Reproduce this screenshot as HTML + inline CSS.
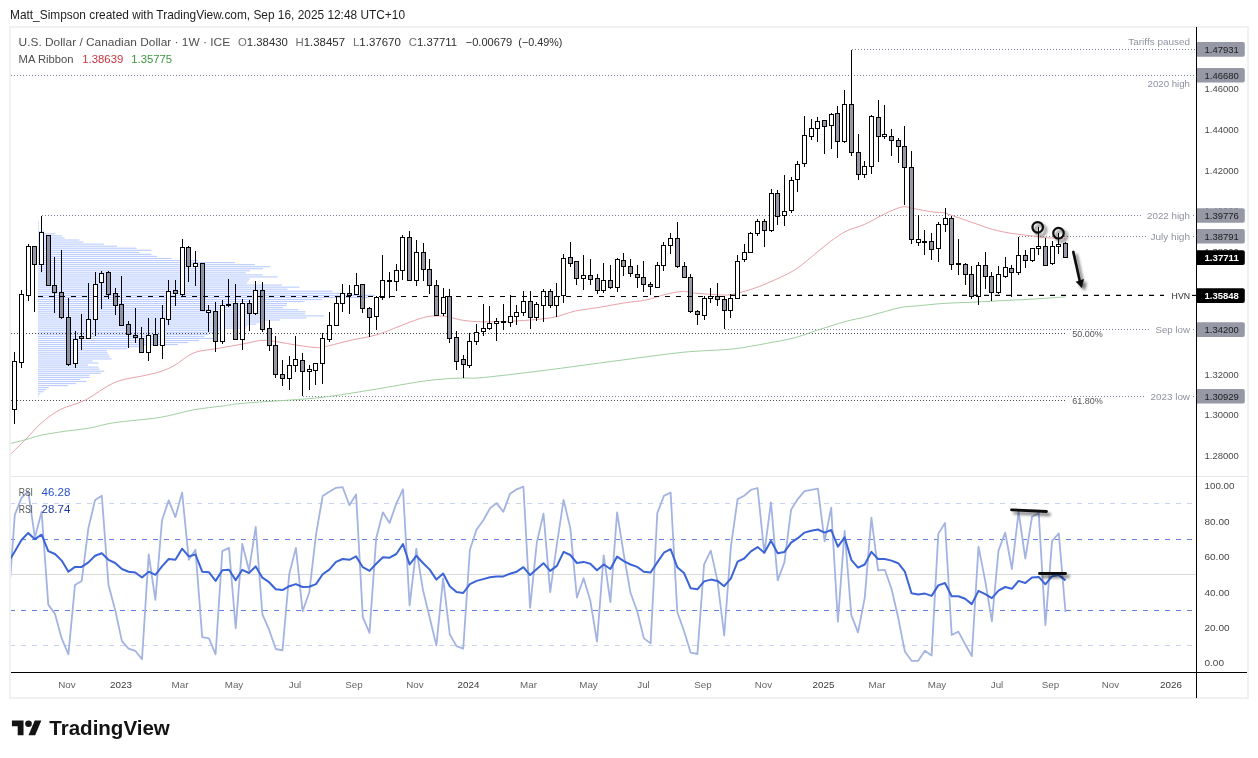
<!DOCTYPE html>
<html><head><meta charset="utf-8"><title>USDCAD chart</title>
<style>html,body{margin:0;padding:0;background:#fff;overflow:hidden;font-family:"Liberation Sans",sans-serif}svg{display:block;opacity:0.9999}</style></head>
<body>
<svg width="1258" height="758" viewBox="0 0 1258 758" font-family="Liberation Sans, sans-serif">
<defs>
<clipPath id="cm"><rect x="11" y="27" width="1185" height="449"/></clipPath>
<clipPath id="cr"><rect x="11" y="477" width="1185" height="195"/></clipPath>
<filter id="sh" x="-50%" y="-50%" width="200%" height="200%"><feGaussianBlur in="SourceAlpha" stdDeviation="1.6"/><feOffset dx="3" dy="2.5" result="o"/><feComponentTransfer><feFuncA type="linear" slope="0.55"/></feComponentTransfer><feMerge><feMergeNode/><feMergeNode in="SourceGraphic"/></feMerge></filter>
</defs>
<rect width="1258" height="758" fill="#fff"/>
<rect x="10" y="27" width="1238" height="671" fill="#fff" stroke="#f1f1f4" stroke-width="2"/>
<line x1="11" y1="476.5" x2="1247" y2="476.5" stroke="#e4e6ec" stroke-width="1"/>
<g clip-path="url(#cm)">
<line x1="852" y1="49.5" x2="1195" y2="49.5" stroke="#7c7e95" stroke-width="1" stroke-dasharray="1 2"/>
<line x1="11" y1="75.5" x2="1196" y2="75.5" stroke="#7c7e95" stroke-width="1" stroke-dasharray="1 2"/>
<line x1="42" y1="215.5" x2="1143" y2="215.5" stroke="#7c7e95" stroke-width="1" stroke-dasharray="1 2"/>
<line x1="1193" y1="215.5" x2="1196" y2="215.5" stroke="#7c7e95" stroke-width="1" stroke-dasharray="1 2"/>
<line x1="1019" y1="236.5" x2="1146" y2="236.5" stroke="#7c7e95" stroke-width="1" stroke-dasharray="1 2"/>
<line x1="1193" y1="236.5" x2="1196" y2="236.5" stroke="#7c7e95" stroke-width="1" stroke-dasharray="1 2"/>
<line x1="725" y1="329.5" x2="1151" y2="329.5" stroke="#7c7e95" stroke-width="1" stroke-dasharray="1 2"/>
<line x1="1193" y1="329.5" x2="1196" y2="329.5" stroke="#7c7e95" stroke-width="1" stroke-dasharray="1 2"/>
<line x1="303" y1="396.5" x2="1146" y2="396.5" stroke="#7c7e95" stroke-width="1" stroke-dasharray="1 2"/>
<line x1="1193" y1="396.5" x2="1196" y2="396.5" stroke="#7c7e95" stroke-width="1" stroke-dasharray="1 2"/>
<line x1="11" y1="333.5" x2="1065" y2="333.5" stroke="#4a4a4a" stroke-width="1" stroke-dasharray="1 2"/>
<line x1="11" y1="400.5" x2="1065" y2="400.5" stroke="#4a4a4a" stroke-width="1" stroke-dasharray="1 2"/>
<rect x="38" y="221.00" width="1.0" height="1.15" fill="#2962ff" fill-opacity="0.31"/>
<rect x="38" y="223.05" width="1.0" height="1.15" fill="#2962ff" fill-opacity="0.31"/>
<rect x="38" y="225.10" width="1.0" height="1.15" fill="#2962ff" fill-opacity="0.31"/>
<rect x="38" y="227.15" width="1.0" height="1.15" fill="#2962ff" fill-opacity="0.31"/>
<rect x="38" y="229.20" width="1.0" height="1.15" fill="#2962ff" fill-opacity="0.31"/>
<rect x="38" y="231.25" width="6.3" height="1.15" fill="#2962ff" fill-opacity="0.31"/>
<rect x="38" y="233.30" width="17.4" height="1.15" fill="#2962ff" fill-opacity="0.31"/>
<rect x="38" y="235.35" width="23.9" height="1.15" fill="#2962ff" fill-opacity="0.31"/>
<rect x="38" y="237.40" width="26.5" height="1.15" fill="#2962ff" fill-opacity="0.31"/>
<rect x="38" y="239.45" width="41.4" height="1.15" fill="#2962ff" fill-opacity="0.31"/>
<rect x="38" y="241.50" width="45.3" height="1.15" fill="#2962ff" fill-opacity="0.31"/>
<rect x="38" y="243.55" width="65.9" height="1.15" fill="#2962ff" fill-opacity="0.31"/>
<rect x="38" y="245.60" width="79.1" height="1.15" fill="#2962ff" fill-opacity="0.31"/>
<rect x="38" y="247.65" width="98.6" height="1.15" fill="#2962ff" fill-opacity="0.31"/>
<rect x="38" y="249.70" width="113.4" height="1.15" fill="#2962ff" fill-opacity="0.31"/>
<rect x="38" y="251.75" width="101.4" height="1.15" fill="#2962ff" fill-opacity="0.31"/>
<rect x="38" y="253.80" width="113.5" height="1.15" fill="#2962ff" fill-opacity="0.31"/>
<rect x="38" y="255.85" width="118.9" height="1.15" fill="#2962ff" fill-opacity="0.31"/>
<rect x="38" y="257.90" width="133.4" height="1.15" fill="#2962ff" fill-opacity="0.31"/>
<rect x="38" y="259.95" width="160.3" height="1.15" fill="#2962ff" fill-opacity="0.31"/>
<rect x="38" y="262.00" width="196.8" height="1.15" fill="#2962ff" fill-opacity="0.31"/>
<rect x="38" y="264.05" width="216.8" height="1.15" fill="#2962ff" fill-opacity="0.31"/>
<rect x="38" y="266.10" width="232.2" height="1.15" fill="#2962ff" fill-opacity="0.31"/>
<rect x="38" y="268.15" width="225.2" height="1.15" fill="#2962ff" fill-opacity="0.31"/>
<rect x="38" y="270.20" width="212.0" height="1.15" fill="#2962ff" fill-opacity="0.31"/>
<rect x="38" y="272.25" width="207.8" height="1.15" fill="#2962ff" fill-opacity="0.31"/>
<rect x="38" y="274.30" width="224.7" height="1.15" fill="#2962ff" fill-opacity="0.31"/>
<rect x="38" y="276.35" width="239.8" height="1.15" fill="#2962ff" fill-opacity="0.31"/>
<rect x="38" y="278.40" width="211.6" height="1.15" fill="#2962ff" fill-opacity="0.31"/>
<rect x="38" y="280.45" width="210.6" height="1.15" fill="#2962ff" fill-opacity="0.31"/>
<rect x="38" y="282.50" width="209.1" height="1.15" fill="#2962ff" fill-opacity="0.31"/>
<rect x="38" y="284.55" width="244.1" height="1.15" fill="#2962ff" fill-opacity="0.31"/>
<rect x="38" y="286.60" width="261.4" height="1.15" fill="#2962ff" fill-opacity="0.31"/>
<rect x="38" y="288.65" width="249.4" height="1.15" fill="#2962ff" fill-opacity="0.31"/>
<rect x="38" y="290.70" width="294.4" height="1.15" fill="#2962ff" fill-opacity="0.31"/>
<rect x="38" y="292.75" width="308.0" height="1.15" fill="#2962ff" fill-opacity="0.31"/>
<rect x="38" y="294.80" width="336.8" height="1.15" fill="#2962ff" fill-opacity="0.31"/>
<rect x="38" y="296.85" width="330.4" height="1.15" fill="#2962ff" fill-opacity="0.31"/>
<rect x="38" y="298.90" width="284.1" height="1.15" fill="#2962ff" fill-opacity="0.31"/>
<rect x="38" y="300.95" width="266.5" height="1.15" fill="#2962ff" fill-opacity="0.31"/>
<rect x="38" y="303.00" width="248.9" height="1.15" fill="#2962ff" fill-opacity="0.31"/>
<rect x="38" y="305.05" width="248.5" height="1.15" fill="#2962ff" fill-opacity="0.31"/>
<rect x="38" y="307.10" width="244.8" height="1.15" fill="#2962ff" fill-opacity="0.31"/>
<rect x="38" y="309.15" width="260.5" height="1.15" fill="#2962ff" fill-opacity="0.31"/>
<rect x="38" y="311.20" width="267.4" height="1.15" fill="#2962ff" fill-opacity="0.31"/>
<rect x="38" y="313.25" width="267.3" height="1.15" fill="#2962ff" fill-opacity="0.31"/>
<rect x="38" y="315.30" width="285.8" height="1.15" fill="#2962ff" fill-opacity="0.31"/>
<rect x="38" y="317.35" width="268.4" height="1.15" fill="#2962ff" fill-opacity="0.31"/>
<rect x="38" y="319.40" width="242.1" height="1.15" fill="#2962ff" fill-opacity="0.31"/>
<rect x="38" y="321.45" width="226.4" height="1.15" fill="#2962ff" fill-opacity="0.31"/>
<rect x="38" y="323.50" width="218.4" height="1.15" fill="#2962ff" fill-opacity="0.31"/>
<rect x="38" y="325.55" width="209.1" height="1.15" fill="#2962ff" fill-opacity="0.31"/>
<rect x="38" y="327.60" width="207.9" height="1.15" fill="#2962ff" fill-opacity="0.31"/>
<rect x="38" y="329.65" width="187.1" height="1.15" fill="#2962ff" fill-opacity="0.31"/>
<rect x="38" y="331.70" width="175.8" height="1.15" fill="#2962ff" fill-opacity="0.31"/>
<rect x="38" y="333.75" width="170.4" height="1.15" fill="#2962ff" fill-opacity="0.31"/>
<rect x="38" y="335.80" width="166.6" height="1.15" fill="#2962ff" fill-opacity="0.31"/>
<rect x="38" y="337.85" width="180.0" height="1.15" fill="#2962ff" fill-opacity="0.31"/>
<rect x="38" y="339.90" width="161.1" height="1.15" fill="#2962ff" fill-opacity="0.31"/>
<rect x="38" y="341.95" width="150.2" height="1.15" fill="#2962ff" fill-opacity="0.31"/>
<rect x="38" y="344.00" width="139.9" height="1.15" fill="#2962ff" fill-opacity="0.31"/>
<rect x="38" y="346.05" width="104.0" height="1.15" fill="#2962ff" fill-opacity="0.31"/>
<rect x="38" y="348.10" width="89.4" height="1.15" fill="#2962ff" fill-opacity="0.31"/>
<rect x="38" y="350.15" width="68.8" height="1.15" fill="#2962ff" fill-opacity="0.31"/>
<rect x="38" y="352.20" width="69.7" height="1.15" fill="#2962ff" fill-opacity="0.31"/>
<rect x="38" y="354.25" width="70.8" height="1.15" fill="#2962ff" fill-opacity="0.31"/>
<rect x="38" y="356.30" width="71.7" height="1.15" fill="#2962ff" fill-opacity="0.31"/>
<rect x="38" y="358.35" width="73.6" height="1.15" fill="#2962ff" fill-opacity="0.31"/>
<rect x="38" y="360.40" width="54.6" height="1.15" fill="#2962ff" fill-opacity="0.31"/>
<rect x="38" y="362.45" width="60.5" height="1.15" fill="#2962ff" fill-opacity="0.31"/>
<rect x="38" y="364.50" width="49.8" height="1.15" fill="#2962ff" fill-opacity="0.31"/>
<rect x="38" y="366.55" width="60.4" height="1.15" fill="#2962ff" fill-opacity="0.31"/>
<rect x="38" y="368.60" width="61.6" height="1.15" fill="#2962ff" fill-opacity="0.31"/>
<rect x="38" y="370.65" width="66.3" height="1.15" fill="#2962ff" fill-opacity="0.31"/>
<rect x="38" y="372.70" width="63.0" height="1.15" fill="#2962ff" fill-opacity="0.31"/>
<rect x="38" y="374.75" width="51.6" height="1.15" fill="#2962ff" fill-opacity="0.31"/>
<rect x="38" y="376.80" width="51.7" height="1.15" fill="#2962ff" fill-opacity="0.31"/>
<rect x="38" y="378.85" width="42.2" height="1.15" fill="#2962ff" fill-opacity="0.31"/>
<rect x="38" y="380.90" width="48.5" height="1.15" fill="#2962ff" fill-opacity="0.31"/>
<rect x="38" y="382.95" width="38.0" height="1.15" fill="#2962ff" fill-opacity="0.31"/>
<rect x="38" y="385.00" width="30.0" height="1.15" fill="#2962ff" fill-opacity="0.31"/>
<rect x="38" y="387.05" width="10.7" height="1.15" fill="#2962ff" fill-opacity="0.31"/>
<rect x="38" y="389.10" width="8.1" height="1.15" fill="#2962ff" fill-opacity="0.31"/>
<rect x="38" y="391.15" width="5.6" height="1.15" fill="#2962ff" fill-opacity="0.31"/>
<rect x="38" y="393.20" width="2.3" height="1.15" fill="#2962ff" fill-opacity="0.31"/>
<rect x="38" y="395.25" width="1.0" height="1.15" fill="#2962ff" fill-opacity="0.31"/>
<path d="M10.0 454.7C12.7 452.1 20.7 444.4 25.9 439.2C31.1 434.0 35.2 428.3 41.0 423.3C46.8 418.3 53.2 413.3 60.6 409.4C68.0 405.5 76.5 404.5 85.5 400.0C94.5 395.5 104.5 386.7 114.3 382.6C124.0 378.5 136.4 377.4 144.0 375.6C151.6 373.8 155.0 373.4 160.0 371.7C165.0 370.0 168.4 368.8 174.0 365.7C179.6 362.6 186.9 355.6 193.8 352.8C200.8 350.0 207.2 350.3 215.7 348.8C224.2 347.3 236.8 345.0 245.0 343.6C253.2 342.2 256.6 340.1 264.9 340.3C273.2 340.5 286.1 343.6 294.7 344.8C303.3 346.0 310.9 347.4 316.5 347.6C322.1 347.8 322.5 347.1 328.5 345.8C334.5 344.5 345.5 341.4 352.3 339.9C359.1 338.4 363.9 338.0 369.2 336.7C374.5 335.4 378.3 334.4 384.1 332.3C389.9 330.2 397.4 326.9 404.0 324.4C410.6 321.9 418.6 318.8 423.9 317.4C429.2 316.0 431.8 316.1 435.8 316.0C439.8 315.9 443.1 316.1 447.7 316.8C452.3 317.5 457.6 319.6 463.6 320.4C469.6 321.2 474.8 321.7 483.5 321.8C492.2 321.9 504.5 321.7 515.8 321.0C527.1 320.3 541.6 319.4 551.5 317.7C561.4 316.0 567.4 312.7 575.4 311.0C583.4 309.3 591.2 308.7 599.2 307.4C607.2 306.1 615.1 304.4 623.1 303.1C631.1 301.8 639.9 301.3 647.0 299.8C654.1 298.3 660.0 295.7 666.0 294.3C672.0 292.9 677.9 291.6 682.7 291.4C687.5 291.2 688.6 292.5 694.6 293.1C700.6 293.7 712.5 294.5 718.5 294.8C724.5 295.1 726.4 295.3 730.4 294.8C734.4 294.3 738.3 293.0 742.3 291.9C746.3 290.8 750.3 289.7 754.3 288.3C758.3 286.9 761.1 285.8 766.2 283.6C771.3 281.4 779.3 278.0 784.7 275.3C790.1 272.6 793.6 270.8 798.6 267.3C803.6 263.8 809.2 258.7 814.5 254.4C819.8 250.1 825.1 245.4 830.4 241.5C835.7 237.6 840.7 233.9 846.3 231.1C851.9 228.3 858.2 227.2 864.2 224.6C870.2 221.9 877.0 217.7 882.0 215.2C887.0 212.7 890.4 211.1 894.0 209.7C897.6 208.3 900.6 206.9 903.9 206.7C907.2 206.5 908.9 207.8 913.9 208.7C918.9 209.6 928.7 211.4 933.7 212.1C938.7 212.8 940.7 212.1 943.7 212.7C946.7 213.2 947.2 213.8 951.9 215.4C956.6 217.0 965.0 220.0 971.8 222.3C978.6 224.6 985.9 227.6 992.5 229.4C999.1 231.2 1005.7 232.4 1011.5 233.4C1017.3 234.4 1022.1 234.6 1027.4 235.3C1032.7 236.0 1038.8 236.9 1043.3 237.4C1047.8 237.9 1050.8 238.0 1054.5 238.2C1058.2 238.4 1063.7 238.7 1065.5 238.8" fill="none" stroke="#e8a2a8" stroke-width="1.0" />
<path d="M10.0 443.6C12.7 442.9 20.8 441.0 25.9 439.6C31.0 438.2 34.3 436.7 40.8 435.3C47.2 433.9 56.6 432.5 64.6 431.3C72.5 430.1 80.2 429.7 88.5 428.3C96.8 426.9 102.4 424.5 114.3 422.7C126.2 420.9 146.8 419.5 160.0 417.4C173.2 415.2 183.2 411.7 193.8 409.8C204.4 407.9 215.1 407.0 223.6 405.9C232.1 404.8 229.8 404.4 245.0 403.1C260.2 401.8 294.7 400.1 314.6 398.1C334.5 396.1 347.0 393.8 364.2 391.1C381.4 388.4 404.6 384.0 417.9 382.0C431.1 380.0 436.1 379.7 443.7 379.0C451.3 378.3 457.6 378.2 463.6 378.0C469.7 377.8 469.3 378.7 480.0 377.8C490.7 376.9 511.8 374.4 527.7 372.5C543.6 370.6 559.5 368.4 575.4 366.3C591.3 364.2 605.2 362.2 623.1 359.9C641.0 357.6 664.8 354.1 682.7 352.3C700.6 350.5 718.5 350.3 730.4 349.2C742.3 348.1 747.7 346.7 754.3 345.6C760.9 344.5 763.4 344.0 770.0 342.7C776.6 341.4 785.8 340.1 793.8 338.0C801.8 335.9 809.0 332.9 817.7 330.1C826.5 327.3 838.3 323.5 846.3 321.3C854.2 319.1 859.0 318.6 865.4 317.0C871.8 315.4 878.5 313.3 884.5 311.7C890.5 310.1 895.6 308.4 901.2 307.4C906.8 306.4 910.8 306.5 917.9 305.8C925.0 305.1 935.0 304.0 944.1 303.4C953.2 302.8 962.0 302.7 972.7 302.2C983.4 301.7 998.6 300.8 1008.5 300.3C1018.4 299.8 1022.8 299.7 1032.3 299.1C1041.8 298.5 1060.0 297.3 1065.5 296.9" fill="none" stroke="#9fd0a0" stroke-width="1.0" />
<rect x="14" y="352" width="1" height="9" fill="#000"/>
<rect x="14" y="410" width="1" height="14" fill="#000"/>
<rect x="12.5" y="361.5" width="4" height="48" fill="#fff" stroke="#000" stroke-width="1"/>
<rect x="21" y="290" width="1" height="4" fill="#000"/>
<rect x="21" y="363" width="1" height="5" fill="#000"/>
<rect x="19.5" y="294.5" width="4" height="68" fill="#fff" stroke="#000" stroke-width="1"/>
<rect x="28" y="244" width="1" height="2" fill="#000"/>
<rect x="28" y="296" width="1" height="5" fill="#000"/>
<rect x="26.5" y="246.5" width="4" height="49" fill="#fff" stroke="#000" stroke-width="1"/>
<rect x="34" y="265" width="1" height="47" fill="#000"/>
<rect x="32.5" y="246.5" width="4" height="18" fill="#7c7e8e" fill-opacity="0.8" stroke="#000" stroke-width="1"/>
<rect x="41" y="216" width="1" height="16" fill="#000"/>
<rect x="41" y="265" width="1" height="7" fill="#000"/>
<rect x="39.5" y="232.5" width="4" height="32" fill="#fff" stroke="#000" stroke-width="1"/>
<rect x="46.5" y="235.5" width="4" height="50" fill="#7c7e8e" fill-opacity="0.8" stroke="#000" stroke-width="1"/>
<rect x="54" y="257" width="1" height="28" fill="#000"/>
<rect x="54" y="293" width="1" height="20" fill="#000"/>
<rect x="52.5" y="285.5" width="4" height="7" fill="#7c7e8e" fill-opacity="0.8" stroke="#000" stroke-width="1"/>
<rect x="61" y="250" width="1" height="42" fill="#000"/>
<rect x="61" y="318" width="1" height="1" fill="#000"/>
<rect x="59.5" y="292.5" width="4" height="25" fill="#7c7e8e" fill-opacity="0.8" stroke="#000" stroke-width="1"/>
<rect x="68" y="298" width="1" height="19" fill="#000"/>
<rect x="68" y="365" width="1" height="1" fill="#000"/>
<rect x="66.5" y="317.5" width="4" height="47" fill="#7c7e8e" fill-opacity="0.8" stroke="#000" stroke-width="1"/>
<rect x="75" y="331" width="1" height="8" fill="#000"/>
<rect x="75" y="364" width="1" height="4" fill="#000"/>
<rect x="73.5" y="339.5" width="4" height="24" fill="#fff" stroke="#000" stroke-width="1"/>
<rect x="81" y="314" width="1" height="22" fill="#000"/>
<rect x="81" y="339" width="1" height="11" fill="#000"/>
<rect x="79.5" y="336.5" width="4" height="2" fill="#7c7e8e" fill-opacity="0.8" stroke="#000" stroke-width="1"/>
<rect x="88" y="283" width="1" height="36" fill="#000"/>
<rect x="86.5" y="319.5" width="4" height="19" fill="#fff" stroke="#000" stroke-width="1"/>
<rect x="95" y="272" width="1" height="12" fill="#000"/>
<rect x="95" y="320" width="1" height="16" fill="#000"/>
<rect x="93.5" y="284.5" width="4" height="35" fill="#fff" stroke="#000" stroke-width="1"/>
<rect x="101" y="271" width="1" height="2" fill="#000"/>
<rect x="101" y="283" width="1" height="26" fill="#000"/>
<rect x="99.5" y="273.5" width="4" height="9" fill="#fff" stroke="#000" stroke-width="1"/>
<rect x="108" y="271" width="1" height="1" fill="#000"/>
<rect x="108" y="295" width="1" height="4" fill="#000"/>
<rect x="106.5" y="272.5" width="4" height="22" fill="#7c7e8e" fill-opacity="0.8" stroke="#000" stroke-width="1"/>
<rect x="115" y="288" width="1" height="5" fill="#000"/>
<rect x="115" y="306" width="1" height="9" fill="#000"/>
<rect x="113.5" y="293.5" width="4" height="12" fill="#7c7e8e" fill-opacity="0.8" stroke="#000" stroke-width="1"/>
<rect x="121" y="276" width="1" height="28" fill="#000"/>
<rect x="119.5" y="304.5" width="4" height="21" fill="#7c7e8e" fill-opacity="0.8" stroke="#000" stroke-width="1"/>
<rect x="128" y="321" width="1" height="3" fill="#000"/>
<rect x="128" y="335" width="1" height="13" fill="#000"/>
<rect x="126.5" y="324.5" width="4" height="10" fill="#7c7e8e" fill-opacity="0.8" stroke="#000" stroke-width="1"/>
<rect x="135" y="308" width="1" height="27" fill="#000"/>
<rect x="135" y="338" width="1" height="5" fill="#000"/>
<rect x="133.5" y="335.5" width="4" height="2" fill="#7c7e8e" fill-opacity="0.8" stroke="#000" stroke-width="1"/>
<rect x="141" y="327" width="1" height="11" fill="#000"/>
<rect x="139.5" y="338.5" width="4" height="14" fill="#7c7e8e" fill-opacity="0.8" stroke="#000" stroke-width="1"/>
<rect x="148" y="318" width="1" height="17" fill="#000"/>
<rect x="148" y="353" width="1" height="8" fill="#000"/>
<rect x="146.5" y="335.5" width="4" height="17" fill="#fff" stroke="#000" stroke-width="1"/>
<rect x="155" y="318" width="1" height="16" fill="#000"/>
<rect x="153.5" y="334.5" width="4" height="11" fill="#7c7e8e" fill-opacity="0.8" stroke="#000" stroke-width="1"/>
<rect x="162" y="305" width="1" height="13" fill="#000"/>
<rect x="162" y="346" width="1" height="13" fill="#000"/>
<rect x="160.5" y="318.5" width="4" height="27" fill="#fff" stroke="#000" stroke-width="1"/>
<rect x="168" y="280" width="1" height="11" fill="#000"/>
<rect x="168" y="320" width="1" height="5" fill="#000"/>
<rect x="166.5" y="291.5" width="4" height="28" fill="#fff" stroke="#000" stroke-width="1"/>
<rect x="175" y="280" width="1" height="10" fill="#000"/>
<rect x="175" y="294" width="1" height="12" fill="#000"/>
<rect x="173.5" y="290.5" width="4" height="3" fill="#7c7e8e" fill-opacity="0.8" stroke="#000" stroke-width="1"/>
<rect x="182" y="239" width="1" height="8" fill="#000"/>
<rect x="182" y="295" width="1" height="1" fill="#000"/>
<rect x="180.5" y="247.5" width="4" height="47" fill="#fff" stroke="#000" stroke-width="1"/>
<rect x="188" y="246" width="1" height="1" fill="#000"/>
<rect x="188" y="267" width="1" height="15" fill="#000"/>
<rect x="186.5" y="247.5" width="4" height="19" fill="#7c7e8e" fill-opacity="0.8" stroke="#000" stroke-width="1"/>
<rect x="195" y="251" width="1" height="12" fill="#000"/>
<rect x="195" y="267" width="1" height="19" fill="#000"/>
<rect x="193.5" y="263.5" width="4" height="3" fill="#fff" stroke="#000" stroke-width="1"/>
<rect x="200.5" y="263.5" width="4" height="47" fill="#7c7e8e" fill-opacity="0.8" stroke="#000" stroke-width="1"/>
<rect x="208" y="305" width="1" height="5" fill="#000"/>
<rect x="208" y="313" width="1" height="19" fill="#000"/>
<rect x="206.5" y="310.5" width="4" height="2" fill="#fff" stroke="#000" stroke-width="1"/>
<rect x="215" y="302" width="1" height="9" fill="#000"/>
<rect x="215" y="342" width="1" height="10" fill="#000"/>
<rect x="213.5" y="311.5" width="4" height="30" fill="#7c7e8e" fill-opacity="0.8" stroke="#000" stroke-width="1"/>
<rect x="222" y="300" width="1" height="5" fill="#000"/>
<rect x="222" y="342" width="1" height="2" fill="#000"/>
<rect x="220.5" y="305.5" width="4" height="36" fill="#fff" stroke="#000" stroke-width="1"/>
<rect x="228" y="279" width="1" height="25" fill="#000"/>
<rect x="228" y="306" width="1" height="1" fill="#000"/>
<rect x="226.5" y="304.5" width="4" height="1" fill="#7c7e8e" fill-opacity="0.8" stroke="#000" stroke-width="1"/>
<rect x="235" y="284" width="1" height="19" fill="#000"/>
<rect x="233.5" y="303.5" width="4" height="36" fill="#7c7e8e" fill-opacity="0.8" stroke="#000" stroke-width="1"/>
<rect x="242" y="299" width="1" height="4" fill="#000"/>
<rect x="242" y="340" width="1" height="10" fill="#000"/>
<rect x="240.5" y="303.5" width="4" height="36" fill="#fff" stroke="#000" stroke-width="1"/>
<rect x="249" y="300" width="1" height="3" fill="#000"/>
<rect x="249" y="314" width="1" height="17" fill="#000"/>
<rect x="247.5" y="303.5" width="4" height="10" fill="#7c7e8e" fill-opacity="0.8" stroke="#000" stroke-width="1"/>
<rect x="255" y="281" width="1" height="9" fill="#000"/>
<rect x="255" y="314" width="1" height="1" fill="#000"/>
<rect x="253.5" y="290.5" width="4" height="23" fill="#fff" stroke="#000" stroke-width="1"/>
<rect x="262" y="282" width="1" height="8" fill="#000"/>
<rect x="262" y="330" width="1" height="2" fill="#000"/>
<rect x="260.5" y="290.5" width="4" height="39" fill="#7c7e8e" fill-opacity="0.8" stroke="#000" stroke-width="1"/>
<rect x="269" y="320" width="1" height="8" fill="#000"/>
<rect x="269" y="346" width="1" height="5" fill="#000"/>
<rect x="267.5" y="328.5" width="4" height="17" fill="#7c7e8e" fill-opacity="0.8" stroke="#000" stroke-width="1"/>
<rect x="275" y="336" width="1" height="9" fill="#000"/>
<rect x="275" y="375" width="1" height="3" fill="#000"/>
<rect x="273.5" y="345.5" width="4" height="29" fill="#7c7e8e" fill-opacity="0.8" stroke="#000" stroke-width="1"/>
<rect x="282" y="360" width="1" height="14" fill="#000"/>
<rect x="282" y="379" width="1" height="7" fill="#000"/>
<rect x="280.5" y="374.5" width="4" height="4" fill="#7c7e8e" fill-opacity="0.8" stroke="#000" stroke-width="1"/>
<rect x="289" y="356" width="1" height="9" fill="#000"/>
<rect x="289" y="379" width="1" height="11" fill="#000"/>
<rect x="287.5" y="365.5" width="4" height="13" fill="#fff" stroke="#000" stroke-width="1"/>
<rect x="295" y="336" width="1" height="23" fill="#000"/>
<rect x="295" y="366" width="1" height="6" fill="#000"/>
<rect x="293.5" y="359.5" width="4" height="6" fill="#fff" stroke="#000" stroke-width="1"/>
<rect x="302" y="353" width="1" height="7" fill="#000"/>
<rect x="302" y="372" width="1" height="24" fill="#000"/>
<rect x="300.5" y="360.5" width="4" height="11" fill="#7c7e8e" fill-opacity="0.8" stroke="#000" stroke-width="1"/>
<rect x="309" y="365" width="1" height="4" fill="#000"/>
<rect x="309" y="372" width="1" height="18" fill="#000"/>
<rect x="307.5" y="369.5" width="4" height="2" fill="#fff" stroke="#000" stroke-width="1"/>
<rect x="315" y="371" width="1" height="14" fill="#000"/>
<rect x="313.5" y="363.5" width="4" height="7" fill="#fff" stroke="#000" stroke-width="1"/>
<rect x="322" y="333" width="1" height="5" fill="#000"/>
<rect x="322" y="364" width="1" height="20" fill="#000"/>
<rect x="320.5" y="338.5" width="4" height="25" fill="#fff" stroke="#000" stroke-width="1"/>
<rect x="329" y="312" width="1" height="13" fill="#000"/>
<rect x="329" y="340" width="1" height="2" fill="#000"/>
<rect x="327.5" y="325.5" width="4" height="14" fill="#fff" stroke="#000" stroke-width="1"/>
<rect x="336" y="296" width="1" height="7" fill="#000"/>
<rect x="334.5" y="303.5" width="4" height="22" fill="#fff" stroke="#000" stroke-width="1"/>
<rect x="342" y="284" width="1" height="9" fill="#000"/>
<rect x="342" y="304" width="1" height="8" fill="#000"/>
<rect x="340.5" y="293.5" width="4" height="10" fill="#fff" stroke="#000" stroke-width="1"/>
<rect x="349" y="285" width="1" height="8" fill="#000"/>
<rect x="349" y="296" width="1" height="18" fill="#000"/>
<rect x="347.5" y="293.5" width="4" height="2" fill="#7c7e8e" fill-opacity="0.8" stroke="#000" stroke-width="1"/>
<rect x="356" y="273" width="1" height="12" fill="#000"/>
<rect x="354.5" y="285.5" width="4" height="9" fill="#fff" stroke="#000" stroke-width="1"/>
<rect x="362" y="309" width="1" height="4" fill="#000"/>
<rect x="360.5" y="284.5" width="4" height="24" fill="#7c7e8e" fill-opacity="0.8" stroke="#000" stroke-width="1"/>
<rect x="369" y="307" width="1" height="1" fill="#000"/>
<rect x="369" y="318" width="1" height="19" fill="#000"/>
<rect x="367.5" y="308.5" width="4" height="9" fill="#7c7e8e" fill-opacity="0.8" stroke="#000" stroke-width="1"/>
<rect x="376" y="296" width="1" height="1" fill="#000"/>
<rect x="376" y="317" width="1" height="13" fill="#000"/>
<rect x="374.5" y="297.5" width="4" height="19" fill="#fff" stroke="#000" stroke-width="1"/>
<rect x="382" y="255" width="1" height="25" fill="#000"/>
<rect x="382" y="298" width="1" height="2" fill="#000"/>
<rect x="380.5" y="280.5" width="4" height="17" fill="#fff" stroke="#000" stroke-width="1"/>
<rect x="389" y="272" width="1" height="8" fill="#000"/>
<rect x="389" y="282" width="1" height="16" fill="#000"/>
<rect x="387.5" y="280.5" width="4" height="1" fill="#7c7e8e" fill-opacity="0.8" stroke="#000" stroke-width="1"/>
<rect x="396" y="264" width="1" height="6" fill="#000"/>
<rect x="396" y="282" width="1" height="9" fill="#000"/>
<rect x="394.5" y="270.5" width="4" height="11" fill="#fff" stroke="#000" stroke-width="1"/>
<rect x="402" y="235" width="1" height="2" fill="#000"/>
<rect x="402" y="271" width="1" height="9" fill="#000"/>
<rect x="400.5" y="237.5" width="4" height="33" fill="#fff" stroke="#000" stroke-width="1"/>
<rect x="409" y="231" width="1" height="6" fill="#000"/>
<rect x="407.5" y="237.5" width="4" height="43" fill="#7c7e8e" fill-opacity="0.8" stroke="#000" stroke-width="1"/>
<rect x="416" y="240" width="1" height="12" fill="#000"/>
<rect x="416" y="281" width="1" height="5" fill="#000"/>
<rect x="414.5" y="252.5" width="4" height="28" fill="#fff" stroke="#000" stroke-width="1"/>
<rect x="423" y="243" width="1" height="9" fill="#000"/>
<rect x="423" y="270" width="1" height="11" fill="#000"/>
<rect x="421.5" y="252.5" width="4" height="17" fill="#7c7e8e" fill-opacity="0.8" stroke="#000" stroke-width="1"/>
<rect x="429" y="259" width="1" height="10" fill="#000"/>
<rect x="429" y="286" width="1" height="8" fill="#000"/>
<rect x="427.5" y="269.5" width="4" height="16" fill="#7c7e8e" fill-opacity="0.8" stroke="#000" stroke-width="1"/>
<rect x="436" y="280" width="1" height="5" fill="#000"/>
<rect x="434.5" y="285.5" width="4" height="30" fill="#7c7e8e" fill-opacity="0.8" stroke="#000" stroke-width="1"/>
<rect x="443" y="288" width="1" height="9" fill="#000"/>
<rect x="443" y="314" width="1" height="2" fill="#000"/>
<rect x="441.5" y="297.5" width="4" height="16" fill="#fff" stroke="#000" stroke-width="1"/>
<rect x="449" y="289" width="1" height="7" fill="#000"/>
<rect x="449" y="339" width="1" height="4" fill="#000"/>
<rect x="447.5" y="296.5" width="4" height="42" fill="#7c7e8e" fill-opacity="0.8" stroke="#000" stroke-width="1"/>
<rect x="456" y="331" width="1" height="6" fill="#000"/>
<rect x="456" y="362" width="1" height="8" fill="#000"/>
<rect x="454.5" y="337.5" width="4" height="24" fill="#7c7e8e" fill-opacity="0.8" stroke="#000" stroke-width="1"/>
<rect x="463" y="355" width="1" height="4" fill="#000"/>
<rect x="463" y="365" width="1" height="13" fill="#000"/>
<rect x="461.5" y="359.5" width="4" height="5" fill="#7c7e8e" fill-opacity="0.8" stroke="#000" stroke-width="1"/>
<rect x="469" y="333" width="1" height="8" fill="#000"/>
<rect x="469" y="366" width="1" height="2" fill="#000"/>
<rect x="467.5" y="341.5" width="4" height="24" fill="#fff" stroke="#000" stroke-width="1"/>
<rect x="476" y="324" width="1" height="8" fill="#000"/>
<rect x="476" y="342" width="1" height="3" fill="#000"/>
<rect x="474.5" y="332.5" width="4" height="9" fill="#fff" stroke="#000" stroke-width="1"/>
<rect x="483" y="304" width="1" height="24" fill="#000"/>
<rect x="483" y="332" width="1" height="4" fill="#000"/>
<rect x="481.5" y="328.5" width="4" height="3" fill="#fff" stroke="#000" stroke-width="1"/>
<rect x="489" y="306" width="1" height="17" fill="#000"/>
<rect x="489" y="329" width="1" height="1" fill="#000"/>
<rect x="487.5" y="323.5" width="4" height="5" fill="#fff" stroke="#000" stroke-width="1"/>
<rect x="496" y="318" width="1" height="3" fill="#000"/>
<rect x="496" y="324" width="1" height="17" fill="#000"/>
<rect x="494.5" y="321.5" width="4" height="2" fill="#fff" stroke="#000" stroke-width="1"/>
<rect x="503" y="304" width="1" height="17" fill="#000"/>
<rect x="503" y="323" width="1" height="7" fill="#000"/>
<rect x="501.5" y="321.5" width="4" height="1" fill="#7c7e8e" fill-opacity="0.8" stroke="#000" stroke-width="1"/>
<rect x="510" y="295" width="1" height="21" fill="#000"/>
<rect x="510" y="323" width="1" height="4" fill="#000"/>
<rect x="508.5" y="316.5" width="4" height="6" fill="#fff" stroke="#000" stroke-width="1"/>
<rect x="516" y="305" width="1" height="7" fill="#000"/>
<rect x="516" y="317" width="1" height="8" fill="#000"/>
<rect x="514.5" y="312.5" width="4" height="4" fill="#fff" stroke="#000" stroke-width="1"/>
<rect x="523" y="291" width="1" height="10" fill="#000"/>
<rect x="523" y="313" width="1" height="3" fill="#000"/>
<rect x="521.5" y="301.5" width="4" height="11" fill="#fff" stroke="#000" stroke-width="1"/>
<rect x="530" y="291" width="1" height="10" fill="#000"/>
<rect x="530" y="318" width="1" height="11" fill="#000"/>
<rect x="528.5" y="301.5" width="4" height="16" fill="#7c7e8e" fill-opacity="0.8" stroke="#000" stroke-width="1"/>
<rect x="536" y="302" width="1" height="2" fill="#000"/>
<rect x="536" y="318" width="1" height="3" fill="#000"/>
<rect x="534.5" y="304.5" width="4" height="13" fill="#fff" stroke="#000" stroke-width="1"/>
<rect x="543" y="289" width="1" height="2" fill="#000"/>
<rect x="543" y="306" width="1" height="16" fill="#000"/>
<rect x="541.5" y="291.5" width="4" height="14" fill="#fff" stroke="#000" stroke-width="1"/>
<rect x="550" y="289" width="1" height="2" fill="#000"/>
<rect x="550" y="306" width="1" height="2" fill="#000"/>
<rect x="548.5" y="291.5" width="4" height="14" fill="#7c7e8e" fill-opacity="0.8" stroke="#000" stroke-width="1"/>
<rect x="556" y="283" width="1" height="13" fill="#000"/>
<rect x="556" y="306" width="1" height="11" fill="#000"/>
<rect x="554.5" y="296.5" width="4" height="9" fill="#fff" stroke="#000" stroke-width="1"/>
<rect x="563" y="254" width="1" height="4" fill="#000"/>
<rect x="563" y="296" width="1" height="7" fill="#000"/>
<rect x="561.5" y="258.5" width="4" height="37" fill="#fff" stroke="#000" stroke-width="1"/>
<rect x="570" y="242" width="1" height="15" fill="#000"/>
<rect x="570" y="264" width="1" height="3" fill="#000"/>
<rect x="568.5" y="257.5" width="4" height="6" fill="#7c7e8e" fill-opacity="0.8" stroke="#000" stroke-width="1"/>
<rect x="576" y="279" width="1" height="6" fill="#000"/>
<rect x="574.5" y="261.5" width="4" height="17" fill="#7c7e8e" fill-opacity="0.8" stroke="#000" stroke-width="1"/>
<rect x="583" y="255" width="1" height="20" fill="#000"/>
<rect x="583" y="279" width="1" height="11" fill="#000"/>
<rect x="581.5" y="275.5" width="4" height="3" fill="#fff" stroke="#000" stroke-width="1"/>
<rect x="590" y="259" width="1" height="16" fill="#000"/>
<rect x="590" y="280" width="1" height="5" fill="#000"/>
<rect x="588.5" y="275.5" width="4" height="4" fill="#7c7e8e" fill-opacity="0.8" stroke="#000" stroke-width="1"/>
<rect x="597" y="274" width="1" height="4" fill="#000"/>
<rect x="597" y="291" width="1" height="3" fill="#000"/>
<rect x="595.5" y="278.5" width="4" height="12" fill="#7c7e8e" fill-opacity="0.8" stroke="#000" stroke-width="1"/>
<rect x="603" y="263" width="1" height="17" fill="#000"/>
<rect x="603" y="291" width="1" height="2" fill="#000"/>
<rect x="601.5" y="280.5" width="4" height="10" fill="#fff" stroke="#000" stroke-width="1"/>
<rect x="610" y="265" width="1" height="15" fill="#000"/>
<rect x="610" y="288" width="1" height="1" fill="#000"/>
<rect x="608.5" y="280.5" width="4" height="7" fill="#7c7e8e" fill-opacity="0.8" stroke="#000" stroke-width="1"/>
<rect x="617" y="258" width="1" height="1" fill="#000"/>
<rect x="617" y="288" width="1" height="4" fill="#000"/>
<rect x="615.5" y="259.5" width="4" height="28" fill="#fff" stroke="#000" stroke-width="1"/>
<rect x="623" y="253" width="1" height="7" fill="#000"/>
<rect x="623" y="267" width="1" height="9" fill="#000"/>
<rect x="621.5" y="260.5" width="4" height="6" fill="#7c7e8e" fill-opacity="0.8" stroke="#000" stroke-width="1"/>
<rect x="630" y="259" width="1" height="7" fill="#000"/>
<rect x="630" y="274" width="1" height="3" fill="#000"/>
<rect x="628.5" y="266.5" width="4" height="7" fill="#7c7e8e" fill-opacity="0.8" stroke="#000" stroke-width="1"/>
<rect x="637" y="265" width="1" height="9" fill="#000"/>
<rect x="637" y="278" width="1" height="10" fill="#000"/>
<rect x="635.5" y="274.5" width="4" height="3" fill="#7c7e8e" fill-opacity="0.8" stroke="#000" stroke-width="1"/>
<rect x="643" y="261" width="1" height="16" fill="#000"/>
<rect x="643" y="285" width="1" height="7" fill="#000"/>
<rect x="641.5" y="277.5" width="4" height="7" fill="#7c7e8e" fill-opacity="0.8" stroke="#000" stroke-width="1"/>
<rect x="650" y="282" width="1" height="2" fill="#000"/>
<rect x="650" y="287" width="1" height="8" fill="#000"/>
<rect x="648.5" y="284.5" width="4" height="2" fill="#7c7e8e" fill-opacity="0.8" stroke="#000" stroke-width="1"/>
<rect x="657" y="262" width="1" height="3" fill="#000"/>
<rect x="655.5" y="265.5" width="4" height="22" fill="#fff" stroke="#000" stroke-width="1"/>
<rect x="663" y="242" width="1" height="3" fill="#000"/>
<rect x="663" y="266" width="1" height="5" fill="#000"/>
<rect x="661.5" y="245.5" width="4" height="20" fill="#fff" stroke="#000" stroke-width="1"/>
<rect x="670" y="233" width="1" height="5" fill="#000"/>
<rect x="670" y="246" width="1" height="8" fill="#000"/>
<rect x="668.5" y="238.5" width="4" height="7" fill="#fff" stroke="#000" stroke-width="1"/>
<rect x="677" y="222" width="1" height="16" fill="#000"/>
<rect x="677" y="267" width="1" height="1" fill="#000"/>
<rect x="675.5" y="238.5" width="4" height="28" fill="#7c7e8e" fill-opacity="0.8" stroke="#000" stroke-width="1"/>
<rect x="684" y="262" width="1" height="4" fill="#000"/>
<rect x="682.5" y="266.5" width="4" height="11" fill="#7c7e8e" fill-opacity="0.8" stroke="#000" stroke-width="1"/>
<rect x="690" y="274" width="1" height="3" fill="#000"/>
<rect x="690" y="312" width="1" height="1" fill="#000"/>
<rect x="688.5" y="277.5" width="4" height="34" fill="#7c7e8e" fill-opacity="0.8" stroke="#000" stroke-width="1"/>
<rect x="697" y="310" width="1" height="1" fill="#000"/>
<rect x="697" y="315" width="1" height="10" fill="#000"/>
<rect x="695.5" y="311.5" width="4" height="3" fill="#7c7e8e" fill-opacity="0.8" stroke="#000" stroke-width="1"/>
<rect x="704" y="296" width="1" height="2" fill="#000"/>
<rect x="704" y="316" width="1" height="4" fill="#000"/>
<rect x="702.5" y="298.5" width="4" height="17" fill="#fff" stroke="#000" stroke-width="1"/>
<rect x="710" y="288" width="1" height="8" fill="#000"/>
<rect x="710" y="299" width="1" height="4" fill="#000"/>
<rect x="708.5" y="296.5" width="4" height="2" fill="#fff" stroke="#000" stroke-width="1"/>
<rect x="717" y="283" width="1" height="13" fill="#000"/>
<rect x="717" y="300" width="1" height="6" fill="#000"/>
<rect x="715.5" y="296.5" width="4" height="3" fill="#7c7e8e" fill-opacity="0.8" stroke="#000" stroke-width="1"/>
<rect x="724" y="297" width="1" height="2" fill="#000"/>
<rect x="724" y="311" width="1" height="18" fill="#000"/>
<rect x="722.5" y="299.5" width="4" height="11" fill="#7c7e8e" fill-opacity="0.8" stroke="#000" stroke-width="1"/>
<rect x="730" y="294" width="1" height="4" fill="#000"/>
<rect x="730" y="311" width="1" height="7" fill="#000"/>
<rect x="728.5" y="298.5" width="4" height="12" fill="#fff" stroke="#000" stroke-width="1"/>
<rect x="737" y="255" width="1" height="6" fill="#000"/>
<rect x="735.5" y="261.5" width="4" height="37" fill="#fff" stroke="#000" stroke-width="1"/>
<rect x="744" y="244" width="1" height="8" fill="#000"/>
<rect x="744" y="260" width="1" height="2" fill="#000"/>
<rect x="742.5" y="252.5" width="4" height="7" fill="#fff" stroke="#000" stroke-width="1"/>
<rect x="750" y="232" width="1" height="1" fill="#000"/>
<rect x="748.5" y="233.5" width="4" height="19" fill="#fff" stroke="#000" stroke-width="1"/>
<rect x="757" y="219" width="1" height="2" fill="#000"/>
<rect x="757" y="234" width="1" height="2" fill="#000"/>
<rect x="755.5" y="221.5" width="4" height="12" fill="#fff" stroke="#000" stroke-width="1"/>
<rect x="764" y="219" width="1" height="2" fill="#000"/>
<rect x="764" y="231" width="1" height="16" fill="#000"/>
<rect x="762.5" y="221.5" width="4" height="9" fill="#7c7e8e" fill-opacity="0.8" stroke="#000" stroke-width="1"/>
<rect x="771" y="189" width="1" height="4" fill="#000"/>
<rect x="771" y="231" width="1" height="1" fill="#000"/>
<rect x="769.5" y="193.5" width="4" height="37" fill="#fff" stroke="#000" stroke-width="1"/>
<rect x="777" y="190" width="1" height="3" fill="#000"/>
<rect x="777" y="217" width="1" height="8" fill="#000"/>
<rect x="775.5" y="193.5" width="4" height="23" fill="#7c7e8e" fill-opacity="0.8" stroke="#000" stroke-width="1"/>
<rect x="784" y="175" width="1" height="36" fill="#000"/>
<rect x="784" y="216" width="1" height="10" fill="#000"/>
<rect x="782.5" y="211.5" width="4" height="4" fill="#fff" stroke="#000" stroke-width="1"/>
<rect x="791" y="177" width="1" height="3" fill="#000"/>
<rect x="791" y="211" width="1" height="2" fill="#000"/>
<rect x="789.5" y="180.5" width="4" height="30" fill="#fff" stroke="#000" stroke-width="1"/>
<rect x="797" y="161" width="1" height="3" fill="#000"/>
<rect x="797" y="180" width="1" height="12" fill="#000"/>
<rect x="795.5" y="164.5" width="4" height="15" fill="#fff" stroke="#000" stroke-width="1"/>
<rect x="804" y="116" width="1" height="19" fill="#000"/>
<rect x="804" y="164" width="1" height="3" fill="#000"/>
<rect x="802.5" y="135.5" width="4" height="28" fill="#fff" stroke="#000" stroke-width="1"/>
<rect x="811" y="119" width="1" height="9" fill="#000"/>
<rect x="811" y="137" width="1" height="3" fill="#000"/>
<rect x="809.5" y="128.5" width="4" height="8" fill="#fff" stroke="#000" stroke-width="1"/>
<rect x="817" y="117" width="1" height="4" fill="#000"/>
<rect x="817" y="129" width="1" height="13" fill="#000"/>
<rect x="815.5" y="121.5" width="4" height="7" fill="#fff" stroke="#000" stroke-width="1"/>
<rect x="824" y="127" width="1" height="27" fill="#000"/>
<rect x="822.5" y="120.5" width="4" height="6" fill="#7c7e8e" fill-opacity="0.8" stroke="#000" stroke-width="1"/>
<rect x="831" y="113" width="1" height="1" fill="#000"/>
<rect x="831" y="126" width="1" height="23" fill="#000"/>
<rect x="829.5" y="114.5" width="4" height="11" fill="#fff" stroke="#000" stroke-width="1"/>
<rect x="837" y="106" width="1" height="7" fill="#000"/>
<rect x="837" y="142" width="1" height="16" fill="#000"/>
<rect x="835.5" y="113.5" width="4" height="28" fill="#7c7e8e" fill-opacity="0.8" stroke="#000" stroke-width="1"/>
<rect x="844" y="90" width="1" height="14" fill="#000"/>
<rect x="844" y="142" width="1" height="1" fill="#000"/>
<rect x="842.5" y="104.5" width="4" height="37" fill="#fff" stroke="#000" stroke-width="1"/>
<rect x="851" y="50" width="1" height="54" fill="#000"/>
<rect x="851" y="153" width="1" height="3" fill="#000"/>
<rect x="849.5" y="104.5" width="4" height="48" fill="#7c7e8e" fill-opacity="0.8" stroke="#000" stroke-width="1"/>
<rect x="858" y="134" width="1" height="18" fill="#000"/>
<rect x="858" y="175" width="1" height="5" fill="#000"/>
<rect x="856.5" y="152.5" width="4" height="22" fill="#7c7e8e" fill-opacity="0.8" stroke="#000" stroke-width="1"/>
<rect x="864" y="161" width="1" height="5" fill="#000"/>
<rect x="864" y="175" width="1" height="3" fill="#000"/>
<rect x="862.5" y="166.5" width="4" height="8" fill="#fff" stroke="#000" stroke-width="1"/>
<rect x="871" y="115" width="1" height="1" fill="#000"/>
<rect x="871" y="167" width="1" height="7" fill="#000"/>
<rect x="869.5" y="116.5" width="4" height="50" fill="#fff" stroke="#000" stroke-width="1"/>
<rect x="878" y="100" width="1" height="17" fill="#000"/>
<rect x="878" y="137" width="1" height="25" fill="#000"/>
<rect x="876.5" y="117.5" width="4" height="19" fill="#7c7e8e" fill-opacity="0.8" stroke="#000" stroke-width="1"/>
<rect x="884" y="105" width="1" height="29" fill="#000"/>
<rect x="884" y="137" width="1" height="2" fill="#000"/>
<rect x="882.5" y="134.5" width="4" height="2" fill="#fff" stroke="#000" stroke-width="1"/>
<rect x="891" y="129" width="1" height="7" fill="#000"/>
<rect x="891" y="141" width="1" height="15" fill="#000"/>
<rect x="889.5" y="136.5" width="4" height="4" fill="#7c7e8e" fill-opacity="0.8" stroke="#000" stroke-width="1"/>
<rect x="898" y="138" width="1" height="2" fill="#000"/>
<rect x="898" y="147" width="1" height="16" fill="#000"/>
<rect x="896.5" y="140.5" width="4" height="6" fill="#7c7e8e" fill-opacity="0.8" stroke="#000" stroke-width="1"/>
<rect x="904" y="126" width="1" height="20" fill="#000"/>
<rect x="904" y="168" width="1" height="37" fill="#000"/>
<rect x="902.5" y="146.5" width="4" height="21" fill="#7c7e8e" fill-opacity="0.8" stroke="#000" stroke-width="1"/>
<rect x="911" y="151" width="1" height="16" fill="#000"/>
<rect x="911" y="240" width="1" height="4" fill="#000"/>
<rect x="909.5" y="167.5" width="4" height="72" fill="#7c7e8e" fill-opacity="0.8" stroke="#000" stroke-width="1"/>
<rect x="918" y="215" width="1" height="24" fill="#000"/>
<rect x="918" y="243" width="1" height="3" fill="#000"/>
<rect x="916.5" y="239.5" width="4" height="3" fill="#fff" stroke="#000" stroke-width="1"/>
<rect x="924" y="230" width="1" height="11" fill="#000"/>
<rect x="924" y="243" width="1" height="12" fill="#000"/>
<rect x="922.5" y="241.5" width="4" height="1" fill="#7c7e8e" fill-opacity="0.8" stroke="#000" stroke-width="1"/>
<rect x="931" y="233" width="1" height="8" fill="#000"/>
<rect x="931" y="250" width="1" height="10" fill="#000"/>
<rect x="929.5" y="241.5" width="4" height="8" fill="#7c7e8e" fill-opacity="0.8" stroke="#000" stroke-width="1"/>
<rect x="938" y="222" width="1" height="2" fill="#000"/>
<rect x="938" y="249" width="1" height="13" fill="#000"/>
<rect x="936.5" y="224.5" width="4" height="24" fill="#fff" stroke="#000" stroke-width="1"/>
<rect x="945" y="208" width="1" height="10" fill="#000"/>
<rect x="945" y="225" width="1" height="7" fill="#000"/>
<rect x="943.5" y="218.5" width="4" height="6" fill="#fff" stroke="#000" stroke-width="1"/>
<rect x="951" y="216" width="1" height="2" fill="#000"/>
<rect x="951" y="265" width="1" height="5" fill="#000"/>
<rect x="949.5" y="218.5" width="4" height="46" fill="#7c7e8e" fill-opacity="0.8" stroke="#000" stroke-width="1"/>
<rect x="958" y="239" width="1" height="24" fill="#000"/>
<rect x="958" y="265" width="1" height="10" fill="#000"/>
<rect x="956.5" y="263.5" width="4" height="1" fill="#7c7e8e" fill-opacity="0.8" stroke="#000" stroke-width="1"/>
<rect x="965" y="263" width="1" height="1" fill="#000"/>
<rect x="965" y="275" width="1" height="10" fill="#000"/>
<rect x="963.5" y="264.5" width="4" height="10" fill="#7c7e8e" fill-opacity="0.8" stroke="#000" stroke-width="1"/>
<rect x="971" y="266" width="1" height="8" fill="#000"/>
<rect x="971" y="297" width="1" height="2" fill="#000"/>
<rect x="969.5" y="274.5" width="4" height="22" fill="#7c7e8e" fill-opacity="0.8" stroke="#000" stroke-width="1"/>
<rect x="978" y="262" width="1" height="3" fill="#000"/>
<rect x="978" y="297" width="1" height="8" fill="#000"/>
<rect x="976.5" y="265.5" width="4" height="31" fill="#fff" stroke="#000" stroke-width="1"/>
<rect x="985" y="252" width="1" height="13" fill="#000"/>
<rect x="985" y="277" width="1" height="12" fill="#000"/>
<rect x="983.5" y="265.5" width="4" height="11" fill="#7c7e8e" fill-opacity="0.8" stroke="#000" stroke-width="1"/>
<rect x="991" y="272" width="1" height="4" fill="#000"/>
<rect x="991" y="293" width="1" height="8" fill="#000"/>
<rect x="989.5" y="276.5" width="4" height="16" fill="#7c7e8e" fill-opacity="0.8" stroke="#000" stroke-width="1"/>
<rect x="998" y="266" width="1" height="8" fill="#000"/>
<rect x="998" y="293" width="1" height="1" fill="#000"/>
<rect x="996.5" y="274.5" width="4" height="18" fill="#fff" stroke="#000" stroke-width="1"/>
<rect x="1005" y="257" width="1" height="10" fill="#000"/>
<rect x="1005" y="277" width="1" height="1" fill="#000"/>
<rect x="1003.5" y="267.5" width="4" height="9" fill="#fff" stroke="#000" stroke-width="1"/>
<rect x="1011" y="265" width="1" height="3" fill="#000"/>
<rect x="1011" y="273" width="1" height="24" fill="#000"/>
<rect x="1009.5" y="268.5" width="4" height="4" fill="#7c7e8e" fill-opacity="0.8" stroke="#000" stroke-width="1"/>
<rect x="1018" y="237" width="1" height="18" fill="#000"/>
<rect x="1018" y="273" width="1" height="2" fill="#000"/>
<rect x="1016.5" y="255.5" width="4" height="17" fill="#fff" stroke="#000" stroke-width="1"/>
<rect x="1025" y="250" width="1" height="5" fill="#000"/>
<rect x="1025" y="261" width="1" height="7" fill="#000"/>
<rect x="1023.5" y="255.5" width="4" height="5" fill="#7c7e8e" fill-opacity="0.8" stroke="#000" stroke-width="1"/>
<rect x="1032" y="261" width="1" height="1" fill="#000"/>
<rect x="1030.5" y="248.5" width="4" height="12" fill="#fff" stroke="#000" stroke-width="1"/>
<rect x="1038" y="227" width="1" height="19" fill="#000"/>
<rect x="1038" y="249" width="1" height="6" fill="#000"/>
<rect x="1036.5" y="246.5" width="4" height="2" fill="#fff" stroke="#000" stroke-width="1"/>
<rect x="1045" y="238" width="1" height="8" fill="#000"/>
<rect x="1043.5" y="246.5" width="4" height="19" fill="#7c7e8e" fill-opacity="0.8" stroke="#000" stroke-width="1"/>
<rect x="1052" y="241" width="1" height="5" fill="#000"/>
<rect x="1052" y="264" width="1" height="1" fill="#000"/>
<rect x="1050.5" y="246.5" width="4" height="17" fill="#fff" stroke="#000" stroke-width="1"/>
<rect x="1058" y="233" width="1" height="11" fill="#000"/>
<rect x="1058" y="247" width="1" height="7" fill="#000"/>
<rect x="1056.5" y="244.5" width="4" height="2" fill="#fff" stroke="#000" stroke-width="1"/>
<rect x="1065" y="242" width="1" height="1" fill="#000"/>
<rect x="1063.5" y="243.5" width="4" height="14" fill="#7c7e8e" fill-opacity="0.8" stroke="#000" stroke-width="1"/>
<line x1="38" y1="296.5" x2="728" y2="296.5" stroke="#000" stroke-width="1.15" stroke-dasharray="5 6"/>
<line x1="728" y1="295.4" x2="1164" y2="295.4" stroke="#000" stroke-width="1.15" stroke-dasharray="5 6" stroke-dashoffset="8"/>
<line x1="1192" y1="295.4" x2="1196" y2="295.4" stroke="#000" stroke-width="1.15"/>
<g filter="url(#sh)">
<circle cx="1037.7" cy="227.3" r="5.25" fill="none" stroke="#0a0a0a" stroke-width="2.2"/>
<circle cx="1058.5" cy="233.2" r="5.25" fill="none" stroke="#0a0a0a" stroke-width="2.2"/>
<line x1="1073.3" y1="251.9" x2="1080" y2="282" stroke="#0a0a0a" stroke-width="2.6" stroke-linecap="round"/>
<polygon points="1081.9,288 1075.7,281.7 1083.9,278.9" fill="#0a0a0a"/>
</g>
<text x="1190" y="44.7" font-size="9.5" fill="#8f92a1" textLength="61.7" lengthAdjust="spacingAndGlyphs" text-anchor="end" >Tariffs paused</text>
<text x="1190" y="86.9" font-size="9.5" fill="#8f92a1" textLength="42.5" lengthAdjust="spacingAndGlyphs" text-anchor="end" >2020 high</text>
<text x="1190" y="219" font-size="9.5" fill="#8f92a1" textLength="43" lengthAdjust="spacingAndGlyphs" text-anchor="end" >2022 high</text>
<text x="1190" y="239.8" font-size="9.5" fill="#8f92a1" textLength="39.5" lengthAdjust="spacingAndGlyphs" text-anchor="end" >July high</text>
<text x="1190" y="299.2" font-size="9.5" fill="#2a2a2a" textLength="18.4" lengthAdjust="spacingAndGlyphs" text-anchor="end" >HVN</text>
<text x="1190" y="333" font-size="9.5" fill="#8f92a1" textLength="34.5" lengthAdjust="spacingAndGlyphs" text-anchor="end" >Sep low</text>
<text x="1190" y="399.8" font-size="9.5" fill="#8f92a1" textLength="39.5" lengthAdjust="spacingAndGlyphs" text-anchor="end" >2023 low</text>
<text x="1072.2" y="337" font-size="9.6" fill="#555" textLength="30.6" lengthAdjust="spacingAndGlyphs" >50.00%</text>
<text x="1072.2" y="403.8" font-size="9.6" fill="#555" textLength="30.6" lengthAdjust="spacingAndGlyphs" >61.80%</text>
<text x="18.6" y="46" font-size="11.3" fill="#4f4f4f" textLength="211.5" lengthAdjust="spacingAndGlyphs" >U.S. Dollar / Canadian Dollar · 1W · ICE</text>
<text x="238" y="46" font-size="11.3" fill="#2e2e2e" textLength="49.9" lengthAdjust="spacingAndGlyphs" ><tspan fill="#707070">O</tspan>1.38430</text>
<text x="295.5" y="46" font-size="11.3" fill="#2e2e2e" textLength="49.5" lengthAdjust="spacingAndGlyphs" ><tspan fill="#707070">H</tspan>1.38457</text>
<text x="352.9" y="46" font-size="11.3" fill="#2e2e2e" textLength="48.0" lengthAdjust="spacingAndGlyphs" ><tspan fill="#707070">L</tspan>1.37670</text>
<text x="408.8" y="46" font-size="11.3" fill="#2e2e2e" textLength="48.2" lengthAdjust="spacingAndGlyphs" ><tspan fill="#707070">C</tspan>1.37711</text>
<text x="465.7" y="46" font-size="11.3" fill="#2e2e2e" textLength="46.6" lengthAdjust="spacingAndGlyphs" >−0.00679</text>
<text x="518.3" y="46" font-size="11.3" fill="#2e2e2e" textLength="44.0" lengthAdjust="spacingAndGlyphs" >(−0.49%)</text>
<text x="18.6" y="63" font-size="11.3" fill="#4f4f4f" textLength="54.9" lengthAdjust="spacingAndGlyphs" >MA Ribbon</text>
<text x="82.3" y="63" font-size="11.3" fill="#c8353f" textLength="41.0" lengthAdjust="spacingAndGlyphs" >1.38639</text>
<text x="131.2" y="63" font-size="11.3" fill="#3b953e" textLength="41.0" lengthAdjust="spacingAndGlyphs" >1.35775</text>
</g>
<g clip-path="url(#cr)">
<line x1="10" y1="503.5" x2="1193" y2="503.5" stroke="#c8d2f1" stroke-width="1" stroke-dasharray="5 6"/>
<line x1="10" y1="539.5" x2="1193" y2="539.5" stroke="#6482dc" stroke-width="1" stroke-dasharray="5 6"/>
<line x1="11" y1="574.5" x2="1196" y2="574.5" stroke="#d9d9d9" stroke-width="1"/>
<line x1="10" y1="610.5" x2="1193" y2="610.5" stroke="#6482dc" stroke-width="1" stroke-dasharray="5 6"/>
<line x1="10" y1="645.5" x2="1193" y2="645.5" stroke="#c8d2f1" stroke-width="1" stroke-dasharray="5 6"/>
<polyline points="8.1,607.3 14.8,514.9 21.5,497.8 28.2,491.2 34.9,537.4 41.6,511.8 48.3,604.6 55.0,613.9 61.7,638.4 68.4,654.3 75.0,584.9 81.7,580.9 88.4,528.1 95.1,499.9 101.8,495.7 108.5,584.9 115.2,609.9 121.9,641.1 128.6,648.7 135.3,650.8 142.0,659.3 148.7,554.5 155.4,599.9 162.0,520.2 168.7,500.4 175.4,517.1 182.1,492.5 188.8,559.8 195.5,549.8 202.2,637.1 208.9,638.4 215.6,654.3 222.3,551.1 229.0,547.9 235.7,628.4 242.3,544.0 249.0,570.3 255.7,526.8 262.4,614.4 269.1,629.7 275.8,649.0 282.5,650.3 289.2,574.3 295.9,547.9 302.6,611.2 309.3,592.2 316.0,534.7 322.7,495.9 329.3,491.7 336.0,487.8 342.7,487.2 349.4,505.2 356.1,494.4 362.8,617.1 369.5,632.9 376.2,538.2 382.9,512.3 389.6,522.9 396.3,503.6 403.0,489.3 409.6,605.4 416.3,548.7 423.0,590.1 429.7,617.8 436.4,645.5 443.1,578.3 449.8,634.5 456.5,646.1 463.2,648.7 469.9,549.8 476.6,529.5 483.3,520.2 490.0,508.3 496.6,503.1 503.3,511.8 510.0,493.8 516.7,489.3 523.4,486.7 530.1,607.8 536.8,542.6 543.5,513.6 550.2,592.2 556.9,544.0 563.6,499.9 570.3,528.1 576.9,597.5 583.6,578.3 590.3,600.7 597.0,641.6 603.7,555.3 610.4,602.0 617.1,512.3 623.8,554.5 630.5,592.8 637.2,611.2 643.9,638.4 650.6,643.4 657.3,513.1 663.9,495.9 670.6,492.5 677.3,612.0 684.0,631.0 690.7,652.7 697.4,654.0 704.1,564.3 710.8,550.6 717.5,580.9 724.2,635.5 730.9,546.6 737.6,499.1 744.2,495.7 750.9,489.9 757.6,488.0 764.3,553.2 771.0,502.3 777.7,580.4 784.4,562.4 791.1,509.7 797.8,499.1 804.5,491.2 811.2,489.9 817.9,488.6 824.6,541.3 831.2,507.6 837.9,621.8 844.6,530.8 851.3,615.2 858.0,632.4 864.7,598.1 871.4,517.6 878.1,570.3 884.8,569.8 891.5,588.8 898.2,617.8 904.9,651.6 911.5,660.8 918.2,660.8 924.9,650.8 931.6,655.6 938.3,533.9 945.0,522.9 951.7,635.0 958.4,631.6 965.1,644.2 971.8,656.1 978.5,546.6 985.2,580.9 991.9,621.3 998.5,550.6 1005.2,532.6 1011.9,569.0 1018.6,511.8 1025.3,558.5 1032.0,516.8 1038.7,513.1 1045.4,625.2 1052.1,540.8 1058.8,533.4 1065.5,612.0" fill="none" stroke="#a3b4e2" stroke-width="1.8" stroke-linejoin="round" />
<polyline points="8.1,562.4 14.8,551.4 21.5,540.0 28.2,532.9 34.9,539.2 41.6,534.7 48.3,551.1 55.0,554.0 61.7,560.6 68.4,571.7 75.0,566.9 81.7,566.9 88.4,562.4 95.1,555.8 101.8,553.2 108.5,559.8 115.2,563.0 121.9,569.0 128.6,571.7 135.3,572.5 142.0,577.5 148.7,571.7 155.4,574.8 162.0,566.4 168.7,559.0 175.4,559.8 182.1,548.7 188.8,556.4 195.5,554.5 202.2,571.7 208.9,572.2 215.6,580.9 222.3,570.3 229.0,569.8 235.7,580.1 242.3,569.8 249.0,573.0 255.7,566.4 262.4,577.7 269.1,582.2 275.8,589.3 282.5,590.1 289.2,586.2 295.9,584.1 302.6,587.0 309.3,586.7 316.0,584.1 322.7,574.3 329.3,569.6 336.0,561.9 342.7,559.0 349.4,559.8 356.1,556.4 362.8,567.2 369.5,570.9 376.2,563.8 382.9,557.2 389.6,557.7 396.3,554.0 403.0,544.0 409.6,564.5 416.3,555.8 423.0,563.0 429.7,569.6 436.4,579.6 443.1,573.5 449.8,586.2 456.5,592.0 463.2,593.0 469.9,584.1 476.6,580.9 483.3,579.1 490.0,577.2 496.6,576.4 503.3,576.4 510.0,573.8 516.7,571.7 523.4,567.2 530.1,575.1 536.8,569.0 543.5,563.2 550.2,570.9 556.9,565.9 563.6,551.9 570.3,555.0 576.9,563.0 583.6,561.9 590.3,563.8 597.0,570.3 603.7,564.5 610.4,569.0 617.1,556.6 623.8,561.1 630.5,564.5 637.2,566.9 643.9,571.7 650.6,572.5 657.3,562.4 663.9,552.7 670.6,549.2 677.3,567.2 684.0,573.0 690.7,588.3 697.4,589.3 704.1,581.4 710.8,579.6 717.5,580.9 724.2,586.2 730.9,578.3 737.6,561.6 744.2,558.5 750.9,551.4 757.6,547.1 764.3,552.7 771.0,540.8 777.7,553.2 784.4,551.9 791.1,542.6 797.8,538.2 804.5,532.6 811.2,530.8 817.9,529.5 824.6,532.6 831.2,530.0 837.9,546.6 844.6,537.4 851.3,559.8 858.0,567.7 864.7,564.5 871.4,551.9 878.1,559.0 884.8,559.0 891.5,560.6 898.2,563.2 904.9,571.7 911.5,593.3 918.2,594.4 924.9,593.6 931.6,595.9 938.3,585.4 945.0,583.0 951.7,596.2 958.4,596.2 965.1,598.8 971.8,604.1 978.5,590.9 985.2,594.1 991.9,598.1 998.5,590.7 1005.2,587.0 1011.9,588.8 1018.6,580.9 1025.3,583.0 1032.0,577.5 1038.7,576.9 1045.4,584.3 1052.1,576.2 1058.8,575.1 1065.5,580.4" fill="none" stroke="#3b64d6" stroke-width="2" stroke-linejoin="round" />
<g filter="url(#sh)">
<line x1="1011.5" y1="509.8" x2="1046.5" y2="511.5" stroke="#0a0a0a" stroke-width="2.8" stroke-linecap="round"/>
<line x1="1039.5" y1="573.5" x2="1065.5" y2="573.5" stroke="#0a0a0a" stroke-width="2.8" stroke-linecap="round"/>
</g>
<text x="18.7" y="495.7" font-size="11.4" fill="#555" textLength="14.3" lengthAdjust="spacingAndGlyphs" >RSI</text>
<text x="41.5" y="495.7" font-size="11.4" fill="#2a52cc" textLength="28.9" lengthAdjust="spacingAndGlyphs" >46.28</text>
<text x="18.7" y="512.8" font-size="11.4" fill="#555" textLength="14.3" lengthAdjust="spacingAndGlyphs" >RSI</text>
<text x="41.5" y="512.8" font-size="11.4" fill="#1d3c9e" textLength="28.9" lengthAdjust="spacingAndGlyphs" >28.74</text>
</g>
<line x1="1196.5" y1="27" x2="1196.5" y2="698" stroke="#000" stroke-width="1"/>
<line x1="11" y1="672.5" x2="1247" y2="672.5" stroke="#000" stroke-width="1"/>
<text x="1204.5" y="92.2" font-size="9.6" fill="#484848" textLength="34.3" lengthAdjust="spacingAndGlyphs" >1.46000</text>
<text x="1204.5" y="133.0" font-size="9.6" fill="#484848" textLength="34.3" lengthAdjust="spacingAndGlyphs" >1.44000</text>
<text x="1204.5" y="173.7" font-size="9.6" fill="#484848" textLength="34.3" lengthAdjust="spacingAndGlyphs" >1.42000</text>
<text x="1204.5" y="213.5" font-size="9.6" fill="#484848" textLength="34.3" lengthAdjust="spacingAndGlyphs" >1.40000</text>
<text x="1204.5" y="255.2" font-size="9.6" fill="#484848" textLength="34.3" lengthAdjust="spacingAndGlyphs" >1.38000</text>
<text x="1204.5" y="377.5" font-size="9.6" fill="#484848" textLength="34.3" lengthAdjust="spacingAndGlyphs" >1.32000</text>
<text x="1204.5" y="418.3" font-size="9.6" fill="#484848" textLength="34.3" lengthAdjust="spacingAndGlyphs" >1.30000</text>
<text x="1204.5" y="459.0" font-size="9.6" fill="#484848" textLength="34.3" lengthAdjust="spacingAndGlyphs" >1.28000</text>
<path d="M1197 42.1h45.8a2 2 0 0 1 2 2v10.6a2 2 0 0 1 -2 2h-45.8z" fill="#9698a6"/>
<text x="1204.5" y="52.8" font-size="9.6" fill="#1c1c1c" textLength="34.3" lengthAdjust="spacingAndGlyphs" >1.47931</text>
<path d="M1197 68.0h45.8a2 2 0 0 1 2 2v10.6a2 2 0 0 1 -2 2h-45.8z" fill="#9698a6"/>
<text x="1204.5" y="78.7" font-size="9.6" fill="#1c1c1c" textLength="34.3" lengthAdjust="spacingAndGlyphs" >1.46680</text>
<path d="M1197 208.2h45.8a2 2 0 0 1 2 2v10.6a2 2 0 0 1 -2 2h-45.8z" fill="#9698a6"/>
<text x="1204.5" y="218.9" font-size="9.6" fill="#1c1c1c" textLength="34.3" lengthAdjust="spacingAndGlyphs" >1.39776</text>
<path d="M1197 229.0h45.8a2 2 0 0 1 2 2v10.6a2 2 0 0 1 -2 2h-45.8z" fill="#9698a6"/>
<text x="1204.5" y="239.7" font-size="9.6" fill="#1c1c1c" textLength="34.3" lengthAdjust="spacingAndGlyphs" >1.38791</text>
<path d="M1197 250.3h45.8a2 2 0 0 1 2 2v10.6a2 2 0 0 1 -2 2h-45.8z" fill="#000"/>
<text x="1204.5" y="261.0" font-size="9.6" fill="#fff" textLength="34.3" lengthAdjust="spacingAndGlyphs" font-weight="bold" >1.37711</text>
<path d="M1197 288.3h45.8a2 2 0 0 1 2 2v10.6a2 2 0 0 1 -2 2h-45.8z" fill="#000"/>
<text x="1204.5" y="299.0" font-size="9.6" fill="#fff" textLength="34.3" lengthAdjust="spacingAndGlyphs" font-weight="bold" >1.35848</text>
<path d="M1197 322.3h45.8a2 2 0 0 1 2 2v10.6a2 2 0 0 1 -2 2h-45.8z" fill="#9698a6"/>
<text x="1204.5" y="333.0" font-size="9.6" fill="#1c1c1c" textLength="34.3" lengthAdjust="spacingAndGlyphs" >1.34200</text>
<path d="M1197 389.0h45.8a2 2 0 0 1 2 2v10.6a2 2 0 0 1 -2 2h-45.8z" fill="#9698a6"/>
<text x="1204.5" y="399.7" font-size="9.6" fill="#1c1c1c" textLength="34.3" lengthAdjust="spacingAndGlyphs" >1.30929</text>
<text x="1204.5" y="488.6" font-size="9.6" fill="#484848" textLength="30" lengthAdjust="spacingAndGlyphs" >100.00</text>
<text x="1204.5" y="525.0" font-size="9.6" fill="#484848" textLength="25" lengthAdjust="spacingAndGlyphs" >80.00</text>
<text x="1204.5" y="560.4" font-size="9.6" fill="#484848" textLength="25" lengthAdjust="spacingAndGlyphs" >60.00</text>
<text x="1204.5" y="595.7" font-size="9.6" fill="#484848" textLength="25" lengthAdjust="spacingAndGlyphs" >40.00</text>
<text x="1204.5" y="631.2" font-size="9.6" fill="#484848" textLength="25" lengthAdjust="spacingAndGlyphs" >20.00</text>
<text x="1204.5" y="666.1" font-size="9.6" fill="#484848" textLength="19.5" lengthAdjust="spacingAndGlyphs" >0.00</text>
<text x="67" y="687.5" font-size="9.8" fill="#666" text-anchor="middle" >Nov</text>
<text x="121" y="687.5" font-size="9.8" fill="#3a3a3a" text-anchor="middle" >2023</text>
<text x="180" y="687.5" font-size="9.8" fill="#666" text-anchor="middle" >Mar</text>
<text x="234" y="687.5" font-size="9.8" fill="#666" text-anchor="middle" >May</text>
<text x="295" y="687.5" font-size="9.8" fill="#666" text-anchor="middle" >Jul</text>
<text x="354" y="687.5" font-size="9.8" fill="#666" text-anchor="middle" >Sep</text>
<text x="415" y="687.5" font-size="9.8" fill="#666" text-anchor="middle" >Nov</text>
<text x="468.5" y="687.5" font-size="9.8" fill="#3a3a3a" text-anchor="middle" >2024</text>
<text x="528.5" y="687.5" font-size="9.8" fill="#666" text-anchor="middle" >Mar</text>
<text x="588.5" y="687.5" font-size="9.8" fill="#666" text-anchor="middle" >May</text>
<text x="643.5" y="687.5" font-size="9.8" fill="#666" text-anchor="middle" >Jul</text>
<text x="703" y="687.5" font-size="9.8" fill="#666" text-anchor="middle" >Sep</text>
<text x="763.5" y="687.5" font-size="9.8" fill="#666" text-anchor="middle" >Nov</text>
<text x="823.5" y="687.5" font-size="9.8" fill="#3a3a3a" text-anchor="middle" >2025</text>
<text x="877" y="687.5" font-size="9.8" fill="#666" text-anchor="middle" >Mar</text>
<text x="937" y="687.5" font-size="9.8" fill="#666" text-anchor="middle" >May</text>
<text x="997" y="687.5" font-size="9.8" fill="#666" text-anchor="middle" >Jul</text>
<text x="1050.5" y="687.5" font-size="9.8" fill="#666" text-anchor="middle" >Sep</text>
<text x="1110.5" y="687.5" font-size="9.8" fill="#666" text-anchor="middle" >Nov</text>
<text x="1171" y="687.5" font-size="9.8" fill="#3a3a3a" text-anchor="middle" >2026</text>
<text x="10" y="18.8" font-size="12.2" fill="#1e1e1e" textLength="395" lengthAdjust="spacingAndGlyphs" >Matt_Simpson created with TradingView.com, Sep 16, 2025 12:48 UTC+10</text>
<g transform="translate(11.9,717.1) scale(0.83)" fill="#131313"><path d="M14 22H7V11H0V4h14v18z"/><circle cx="20" cy="8" r="4"/><path d="M28 22h-8l7.5-18h8L28 22z"/></g>
<text x="49.3" y="734.7" font-size="20" fill="#131313" textLength="120.5" lengthAdjust="spacingAndGlyphs" font-weight="bold" >TradingView</text>
</svg>
</body></html>
